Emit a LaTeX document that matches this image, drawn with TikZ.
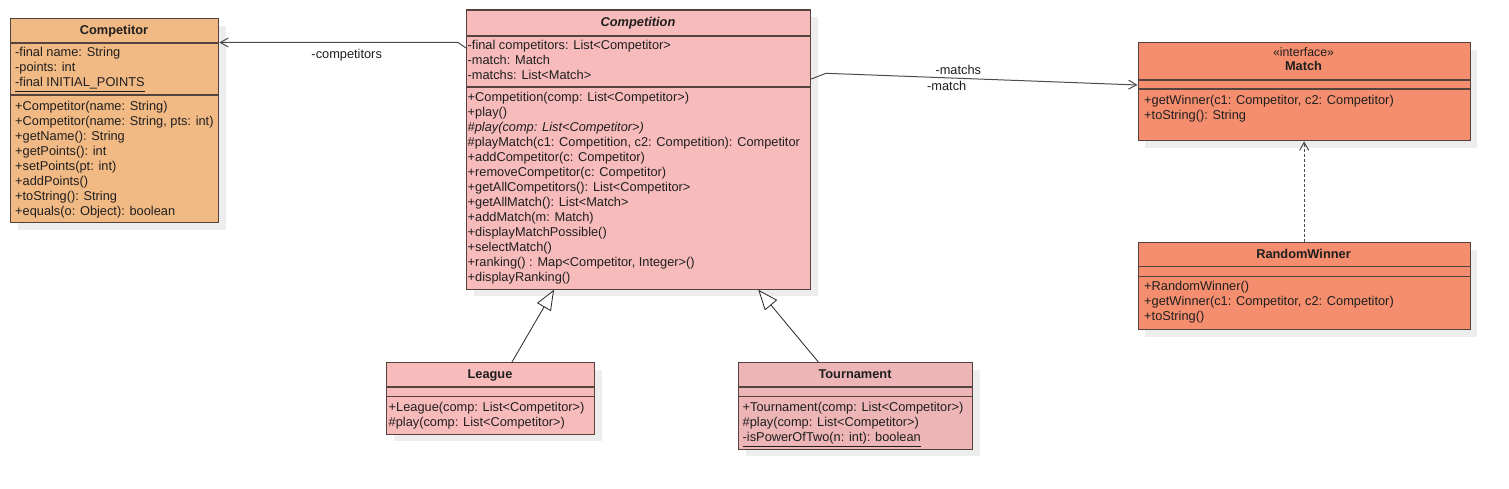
\documentclass[tikz,border=0pt]{standalone}
\usepackage{fontspec}
\setmainfont{Liberation Sans}
\usetikzlibrary{arrows.meta,shadows}

\definecolor{borderc}{RGB}{84,66,62}
\definecolor{competitorc}{RGB}{241,185,132}
\definecolor{competitionc}{RGB}{248,187,187}
\definecolor{tournamentc}{RGB}{237,181,181}
\definecolor{matchc}{RGB}{245,142,110}

\tikzset{
  classbox/.style={draw=borderc, line width=1.3pt, rectangle, anchor=north west, inner sep=0pt,
    drop shadow={shadow xshift=7pt, shadow yshift=-7pt, fill=black!7, opacity=1}},
  sepline/.style={draw=borderc, line width=1.3pt},
  member/.style={anchor=base west, inner sep=0pt, font=\fontsize{12.8}{15}\selectfont, text=black!88},
  classname/.style={anchor=base, inner sep=0pt, font=\fontsize{12.8}{15}\selectfont\bfseries, text=black!88},
  assoc/.style={draw=black!70, line width=1pt, -{Straight Barb[length=8pt,width=9pt]}},
  inherit/.style={draw=black!85, line width=0.8pt, -{Triangle[open,length=20pt,width=16pt,fill=white]}},
  realize/.style={assoc, dash pattern=on 3pt off 2pt},
}

\begin{document}
\begin{tikzpicture}[x=1pt,y=-1pt]
\useasboundingbox (0,0) rectangle (1509,489);

% Competitor
\node[classbox, fill=competitorc, minimum width=208pt, minimum height=204pt] (competitor) at (10,18) {};
\draw[sepline] (competitor.west |- 0,43) -- (competitor.east |- 0,43);
\draw[sepline] (competitor.west |- 0,95) -- (competitor.east |- 0,95);
\node[classname] (competitortitle) at (114,35) {Competitor};
\node[member] (cpa1) at (15,57) {-final name: String};
\node[member] (cpa2) at (15,72) {-points: int};
\node[member] (cpa3) at (15,87) {\underline{-final INITIAL\_POINTS}};
\foreach \t [count=\i from 0] in {{+Competitor(name: String)},{+Competitor(name: String, pts: int)},
  {+getName(): String},{+getPoints(): int},{+setPoints(pt: int)},{+addPoints()},
  {+toString(): String},{+equals(o: Object): boolean}}
  \node[member] (cpm\i) at (15,110.5+15*\i) {\t};

% Competition
\node[classbox, fill=competitionc, minimum width=344pt, minimum height=279pt] (competition) at (466,9.5) {};
\draw[sepline] (competition.west |- 0,36) -- (competition.east |- 0,36);
\draw[sepline] (competition.west |- 0,87) -- (competition.east |- 0,87);
\node[classname, font=\fontsize{12.8}{15}\selectfont\bfseries\itshape] (competitiontitle) at (638,27) {Competition};
\node[member] (cna1) at (467.5,50) {-final competitors: List<Competitor>};
\node[member] (cna2) at (467.5,65) {-match: Match};
\node[member] (cna3) at (467.5,80) {-matchs: List<Match>};
\foreach \t [count=\i from 0] in {{+Competition(comp: List<Competitor>)},{+play()},
  {\itshape\#play(comp: List<Competitor>)},{\#playMatch(c1: Competition, c2: Competition): Competitor},
  {+addCompetitor(c: Competitor)},{+removeCompetitor(c: Competitor)},
  {+getAllCompetitors(): List<Competitor>},{+getAllMatch(): List<Match>},
  {+addMatch(m: Match)},{+displayMatchPossible()},{+selectMatch()},
  {+ranking() : Map<Competitor, Integer>()},{+displayRanking()}}
  \node[member] (cnm\i) at (467.5,101.7+15*\i) {\t};

% League
\node[classbox, fill=competitionc, minimum width=208pt, minimum height=71.5pt] (league) at (386,362) {};
\draw[sepline] (league.west |- 0,387) -- (league.east |- 0,387);
\draw[sepline] (league.west |- 0,396.5) -- (league.east |- 0,396.5);
\node[classname] (leaguetitle) at (490,378.5) {League};
\node[member] (lgm0) at (388.5,411.7) {+League(comp: List<Competitor>)};
\node[member] (lgm1) at (388.5,426.7) {\#play(comp: List<Competitor>)};

% Tournament
\node[classbox, fill=tournamentc, minimum width=234pt, minimum height=86.5pt] (tournament) at (738,362) {};
\draw[sepline] (tournament.west |- 0,387) -- (tournament.east |- 0,387);
\draw[sepline] (tournament.west |- 0,396.5) -- (tournament.east |- 0,396.5);
\node[classname] (tournamenttitle) at (855,378.5) {Tournament};
\node[member] (trm0) at (742.5,411.7) {+Tournament(comp: List<Competitor>)};
\node[member] (trm1) at (742.5,426.7) {\#play(comp: List<Competitor>)};
\node[member] (trm2) at (742.5,441.7) {\underline{-isPowerOfTwo(n: int): boolean}};

% Match
\node[classbox, fill=matchc, minimum width=332pt, minimum height=98pt] (match) at (1137.5,42) {};
\draw[sepline] (match.west |- 0,80) -- (match.east |- 0,80);
\draw[sepline] (match.west |- 0,89) -- (match.east |- 0,89);
\node[classname, font=\fontsize{12.3}{15}\selectfont] (matchstereo) at (1303.5,56.7) {«interface»};
\node[classname] (matchtitle) at (1303.5,71) {Match};
\node[member] (mtm0) at (1144,104.5) {+getWinner(c1: Competitor, c2: Competitor)};
\node[member] (mtm1) at (1144,119.5) {+toString(): String};

% RandomWinner
\node[classbox, fill=matchc, minimum width=332pt, minimum height=87pt] (randomwinner) at (1137.5,242) {};
\draw[sepline] (randomwinner.west |- 0,266.7) -- (randomwinner.east |- 0,266.7);
\draw[sepline] (randomwinner.west |- 0,276.7) -- (randomwinner.east |- 0,276.7);
\node[classname] (randomwinnertitle) at (1303.5,258.3) {RandomWinner};
\node[member] (rwm0) at (1144,290) {+RandomWinner()};
\node[member] (rwm1) at (1144,305) {+getWinner(c1: Competitor, c2: Competitor)};
\node[member] (rwm2) at (1144,320) {+toString()};

% associations
\coordinate (cbend) at (458,42.5);
\coordinate (mbend) at (826,73.3);
\draw[assoc] (competition.west |- 0,48) -- (cbend) -- (competitor.east |- cbend);
\node[member, anchor=base] (lcompetitors) at (346.7,58.3) {-competitors};
\draw[assoc] (competition.east |- 0,79) -- (mbend) -- (match.west |- 0,85);
\node[member, anchor=base] (lmatchs) at (958.3,74.3) {-matchs};
\node[member, anchor=base] (lmatch) at (946.7,90.7) {-match};

% generalization and realization
\draw[inherit] (league.north -| 512,0) -- (competition.south -| 554,0);
\draw[inherit] (tournament.north -| 818.3,0) -- (competition.south -| 758.3,0);
\draw[realize] (randomwinner.north) -- (match.south);
\end{tikzpicture}
\end{document}
